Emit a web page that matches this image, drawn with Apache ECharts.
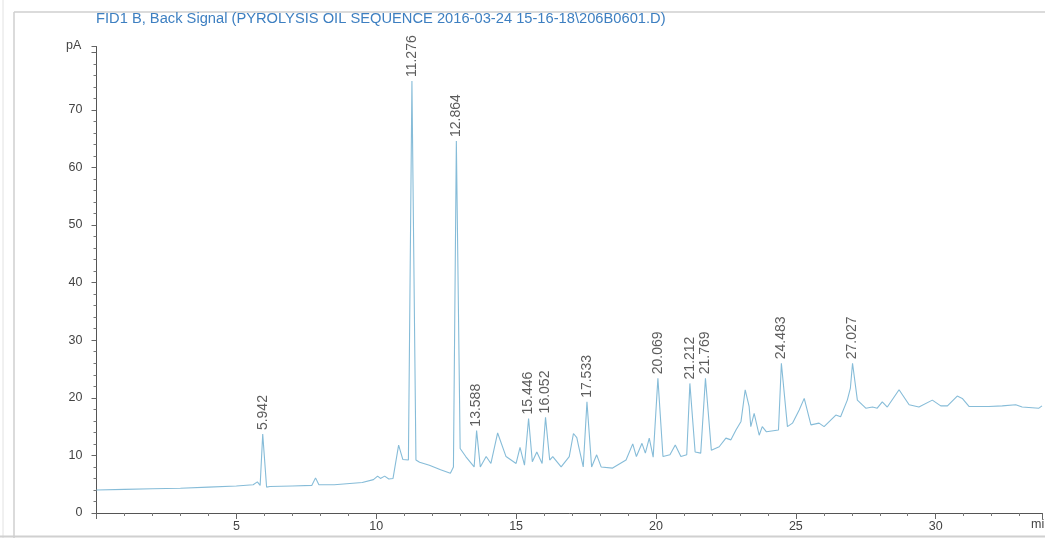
<!DOCTYPE html>
<html>
<head>
<meta charset="utf-8">
<script src="https://cdn.jsdelivr.net/npm/echarts@6/dist/echarts.min.js"></script>
<style>
html,body{margin:0;padding:0;background:#fff;}
#chart{width:1045px;height:538px;}
</style>
</head>
<body>
<div id="chart"></div>
<script>
// Retention time (min) of the traced signal
const signalTime = [0.0,1.0,2.0,3.0,4.0,5.0,5.6,5.75,5.85,5.942,6.08,6.2,7.0,7.7,7.83,7.95,8.5,9.5,9.9,10.05,10.15,10.3,10.45,10.6,10.8,10.95,11.15,11.276,11.42,11.55,11.9,12.3,12.65,12.76,12.864,13.0,13.2,13.5,13.588,13.72,13.93,14.1,14.34,14.64,15.0,15.14,15.3,15.446,15.58,15.74,15.93,16.052,16.2,16.31,16.61,16.9,17.05,17.17,17.24,17.4,17.533,17.7,17.88,18.04,18.45,18.93,19.17,19.3,19.5,19.62,19.76,19.9,20.069,20.25,20.5,20.69,20.89,21.1,21.212,21.4,21.6,21.769,21.98,22.26,22.5,22.68,22.86,23.04,23.19,23.33,23.39,23.51,23.69,23.8,23.95,24.38,24.483,24.7,24.88,25.12,25.3,25.54,25.83,26.01,26.43,26.6,26.84,26.95,27.027,27.2,27.5,27.74,27.91,28.09,28.27,28.69,29.05,29.4,29.88,30.18,30.42,30.77,30.95,31.19,31.9,32.38,32.86,33.09,33.69,33.8];
// Signal (pA)
const signalValue = [4.0,4.1,4.2,4.3,4.5,4.7,4.9,5.4,4.8,13.7,4.5,4.6,4.7,4.8,6.1,4.9,4.9,5.3,5.8,6.4,6.0,6.4,5.9,6.0,11.8,9.3,9.2,75.0,9.2,8.8,8.3,7.5,6.9,8.0,64.6,11.2,9.8,8.0,14.3,8.0,9.8,8.6,13.9,9.8,8.6,11.4,8.3,16.4,8.9,10.6,8.6,16.6,9.2,9.8,8.0,9.8,13.8,13.1,11.5,8.0,19.3,8.0,10.1,8.0,7.8,9.2,12.0,9.8,12.1,10.4,13.0,9.7,23.4,9.8,10.1,11.8,9.8,10.1,22.5,10.6,10.4,23.4,10.9,11.5,13.0,12.7,14.4,15.9,21.4,18.5,15.0,17.3,13.5,15.0,14.1,14.4,26.0,15.0,15.6,17.9,19.9,15.3,15.6,15.0,17.0,16.7,19.6,21.7,26.0,19.6,18.2,18.4,18.2,19.3,18.4,21.4,18.8,18.4,19.6,18.6,18.6,20.3,19.9,18.5,18.5,18.6,18.8,18.4,18.2,18.6];
// Labelled peaks
const peakTimes = [5.942,11.276,12.864,13.588,15.446,16.052,17.533,20.069,21.212,21.769,24.483,27.027];
const peakLabels = ['5.942','11.276','12.864','13.588','15.446','16.052','17.533','20.069','21.212','21.769','24.483','27.027'];
const peakHeights = [13.7,75.0,64.6,14.3,16.4,16.6,19.3,23.4,22.5,23.4,26.0,26.0];
// Axis ticks
const xTickLabels = [5,10,15,20,25,30];
const yTickLabels = [0,10,20,30,40,50,60,70];
const titleText = 'FID1 B, Back Signal (PYROLYSIS OIL SEQUENCE 2016-03-24 15-16-18\\206B0601.D)';

const FONT = '"Liberation Sans", Arial, sans-serif';
const chart = echarts.init(document.getElementById('chart'));
const lineData = signalTime.map((t, i) => [t, signalValue[i]]);
const peakData = peakTimes.map((t, i) => ({value: [t, peakHeights[i]], name: peakLabels[i]}));

chart.setOption({
  animation: false,
  backgroundColor: '#fff',
  grid: {left: 96.5, right: 0, top: 46.5, bottom: 25, containLabel: false},
  xAxis: {
    type: 'value', min: 0, max: 33.8, interval: 5,
    axisLine: {lineStyle: {color: '#555', width: 1}},
    axisTick: {length: 6, lineStyle: {color: '#666'}},
    minorTick: {show: true, splitNumber: 5, length: 3, lineStyle: {color: '#777'}},
    splitLine: {show: false},
    axisLabel: {
      color: '#444', fontFamily: FONT, fontSize: 12.5, margin: 7,
      formatter: v => xTickLabels.indexOf(Math.round(v * 1000) / 1000) >= 0 ? String(v) : ''
    }
  },
  yAxis: {
    type: 'value', min: 0, max: 81, interval: 10,
    axisLine: {show: true, lineStyle: {color: '#555', width: 1}},
    axisTick: {show: true, length: 5, lineStyle: {color: '#666'}},
    minorTick: {show: true, splitNumber: 5, length: 3, lineStyle: {color: '#777'}},
    splitLine: {show: false},
    axisLabel: {
      color: '#444', fontFamily: FONT, fontSize: 12.5, margin: 14,
      formatter: v => yTickLabels.indexOf(v) >= 0 ? String(v) : ''
    }
  },
  series: [
    {
      type: 'line', data: lineData, symbol: 'none', smooth: false,
      lineStyle: {color: '#86bcd8', width: 1.1},
      z: 2
    },
    {
      type: 'scatter', data: peakData, symbolSize: 0, silent: true,
      label: {
        show: true, position: 'top', distance: 4, rotate: 90,
        align: 'left', verticalAlign: 'middle',
        formatter: p => p.name,
        color: '#333', fontFamily: FONT, fontSize: 14
      },
      z: 3
    }
  ],
  graphic: [
    {type: 'line', shape: {x1: 14, y1: 12, x2: 1045, y2: 12}, style: {stroke: '#cfcfcf', lineWidth: 1.5}},
    {type: 'line', shape: {x1: 14, y1: 12, x2: 14, y2: 538}, style: {stroke: '#cfcfcf', lineWidth: 1.5}},
    {type: 'line', shape: {x1: 3, y1: 0, x2: 3, y2: 538}, style: {stroke: '#e2e2e2', lineWidth: 1}},
    {type: 'line', shape: {x1: 0, y1: 536.5, x2: 1045, y2: 536.5}, style: {stroke: '#d0d0d0', lineWidth: 2}},
    {type: 'text', left: 96, top: 11, style: {text: titleText, fill: '#3d7fc1', font: '14.7px ' + FONT}},
    {type: 'text', left: 66, top: 39, style: {text: 'pA', fill: '#444', font: '12.5px ' + FONT}},
    {type: 'text', left: 1031, top: 518, style: {text: 'min', fill: '#444', font: '12.5px ' + FONT}}
  ]
});
</script>
</body>
</html>
